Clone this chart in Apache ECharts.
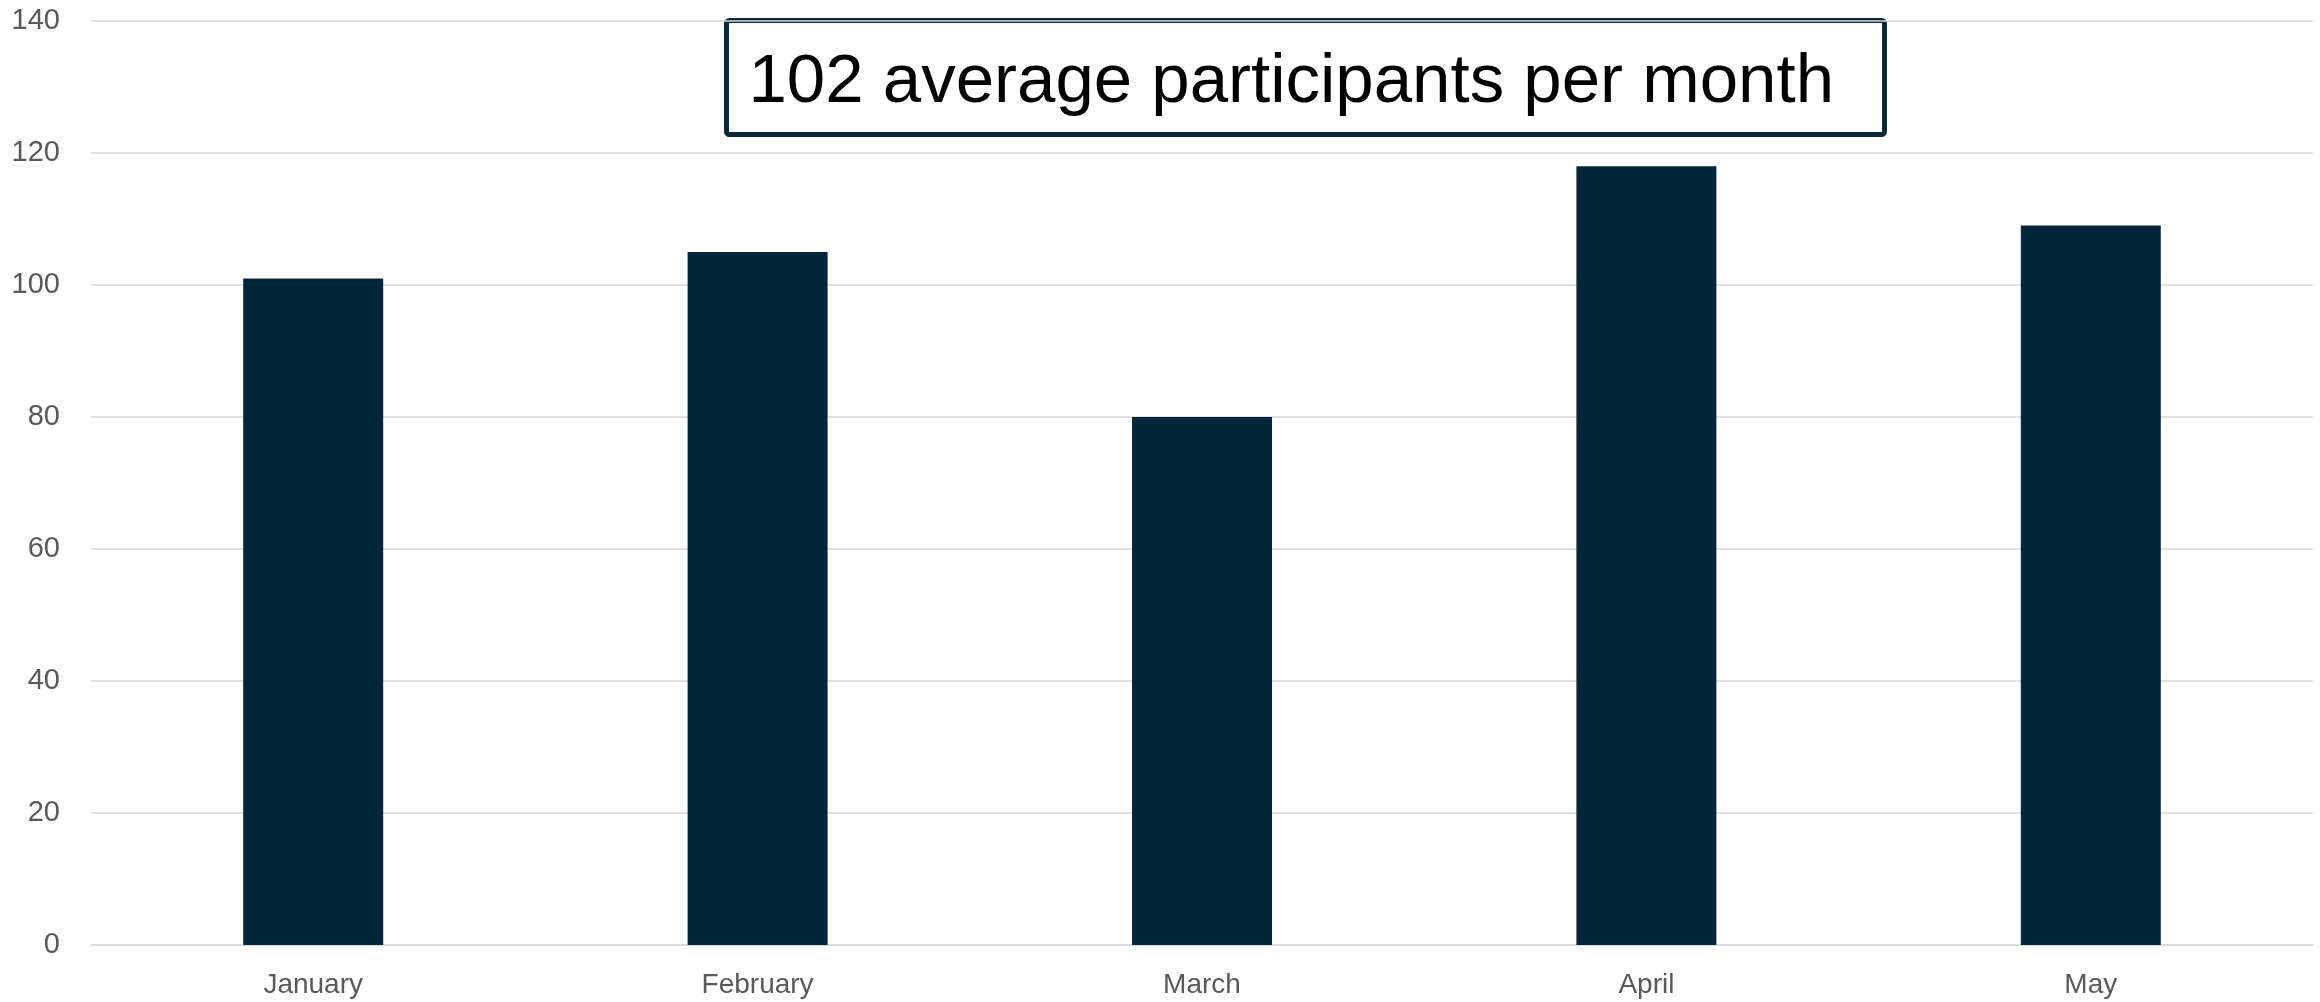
<!DOCTYPE html>
<html>
<head>
<meta charset="utf-8">
<script src="https://cdn.jsdelivr.net/npm/echarts@6/dist/echarts.min.js"></script>
<style>html,body{margin:0;padding:0;background:#fff;}#c{width:2320px;height:1002px;}</style>
</head>
<body>
<div id="c"></div>
<script>
const months = ['January', 'February', 'March', 'April', 'May'];
const participants = [101, 105, 80, 118, 109];
const yTicks = { min: 0, max: 140, interval: 20 };

const avg = Math.floor(participants.reduce((a, b) => a + b, 0) / participants.length);
const boxText = avg + ' average participants per month';

const chart = echarts.init(document.getElementById('c'));
chart.setOption({
  animation: false,
  backgroundColor: '#ffffff',
  grid: { left: 91, right: 7, top: 21, bottom: 57, containLabel: false },
  xAxis: {
    type: 'category',
    data: months,
    axisLine: { show: true, lineStyle: { color: '#d9d9d9', width: 1.5 } },
    axisTick: { show: false },
    axisLabel: { color: '#595959', fontSize: 28, fontFamily: 'Liberation Sans', margin: 26 }
  },
  yAxis: {
    type: 'value',
    min: yTicks.min, max: yTicks.max, interval: yTicks.interval,
    axisLine: { show: false },
    axisTick: { show: false },
    splitLine: { lineStyle: { color: '#d9d9d9', width: 1.5 } },
    axisLabel: { color: '#595959', fontSize: 29, fontFamily: 'Liberation Sans', margin: 31 }
  },
  series: [{
    type: 'bar',
    data: participants,
    barWidth: '31.5%',
    itemStyle: { color: '#022639' }
  }],
  graphic: [{
    type: 'group',
    left: 724, top: 18,
    children: [{
      type: 'rect',
      shape: { x: 0, y: 0, width: 1158, height: 114, r: 3 },
      style: { fill: '#ffffff', stroke: '#0b2838', lineWidth: 5 }
    }, {
      type: 'text',
      x: 22, y: 62,
      style: {
        text: boxText,
        fill: '#000000',
        fontSize: 69,
        fontFamily: 'Liberation Sans',
        verticalAlign: 'middle',
        align: 'left'
      }
    }]
  }]
});
</script>
</body>
</html>
